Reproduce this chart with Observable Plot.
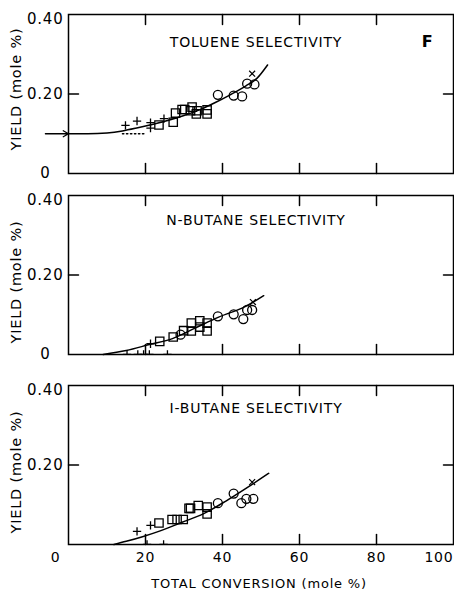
<!DOCTYPE html>
<html><head><meta charset="utf-8">
<script src="https://cdn.jsdelivr.net/npm/d3@7"></script>
<script src="https://cdn.jsdelivr.net/npm/@observablehq/plot@0.6"></script>
<style>
body{margin:0;background:#fff;}
#chart svg{display:block;}
#chart svg text{letter-spacing:0.8px;}
</style>
</head><body><div id="chart"></div>
<script>
// ---- ticks & labels ----
const innerXTicks = [20, 40, 60, 80];
const midXTickLabels = [20, 40, 60, 80];
const firstXTick = [0];
const lastXTick = [100];
const midYTick = [0.2];
const topYTick = [0.4];
const zeroYTick = [0];
const panelTitles = ["TOLUENE SELECTIVITY", "N-BUTANE SELECTIVITY", "I-BUTANE SELECTIVITY"];
const panelLetter = "F";
const xLabel = "TOTAL CONVERSION (mole %)";
const yLabel = "YIELD (mole %)";

// ---- Toluene ----
const feedToluene = 0.10;
const feedArrowX = [-6, 0];
const tolPlusX = [14.8, 17.8, 21.3, 21.3, 24.8];
const tolPlusY = [0.121, 0.132, 0.128, 0.114, 0.138];
const tolSquareX = [23.5, 27.2, 27.8, 29.5, 30.2, 31.7, 32.1, 33.4, 33.2, 36.0, 36.0];
const tolSquareY = [0.122, 0.129, 0.152, 0.161, 0.161, 0.158, 0.167, 0.158, 0.150, 0.160, 0.150];
const tolCircleX = [38.8, 42.9, 45.1, 46.4, 48.3];
const tolCircleY = [0.198, 0.196, 0.194, 0.226, 0.224];
const tolCrossX = [47.7];
const tolCrossY = [0.251];
const tolCurveX = [0, 5, 10, 14, 18, 22, 26, 30, 34, 38, 42, 46, 49, 51.7];
const tolCurveY = [0.100, 0.100, 0.102, 0.107, 0.115, 0.124, 0.134, 0.146, 0.160, 0.178, 0.198, 0.220, 0.240, 0.273];
const tolDottedX = [14, 20];

// ---- N-butane ----
const nbPlusX = [21.3];
const nbPlusY = [0.027];
const nbAxisPlusX = [15.2, 18.0, 19.5, 21.0, 25.7];
const nbSquareX = [23.7, 27.2, 29.9, 31.9, 31.9, 34.1, 34.1, 36.0, 36.0];
const nbSquareY = [0.033, 0.044, 0.060, 0.079, 0.059, 0.085, 0.069, 0.079, 0.059];
const nbCircleX = [29.1, 38.8, 42.9, 45.4, 46.4, 47.7];
const nbCircleY = [0.050, 0.096, 0.101, 0.089, 0.112, 0.112];
const nbCrossX = [47.9];
const nbCrossY = [0.132];
const nbCurveX = [9, 15, 21, 27, 33, 39, 46, 50.7];
const nbCurveY = [0, 0.010, 0.025, 0.040, 0.067, 0.094, 0.121, 0.148];

// ---- I-butane ----
const ibPlusX = [17.8, 21.3];
const ibPlusY = [0.033, 0.048];
const ibAxisPlusX = [20.4, 24.7];
const ibSquareX = [23.5, 26.9, 28.2, 29.8, 31.3, 31.7, 33.7, 36.0, 36.0];
const ibSquareY = [0.054, 0.063, 0.063, 0.063, 0.091, 0.091, 0.098, 0.094, 0.077];
const ibCircleX = [38.8, 42.9, 44.9, 46.2, 48.0];
const ibCircleY = [0.104, 0.128, 0.104, 0.115, 0.115];
const ibCrossX = [47.7];
const ibCrossY = [0.157];
const ibCurveX = [11.8, 15, 19, 24, 29.5, 35, 41, 46.4, 52];
const ibCurveY = [0, 0.008, 0.019, 0.035, 0.056, 0.077, 0.110, 0.143, 0.179];

const pts = (xs, ys) => xs.map((x, i) => ({x, y: ys[i]}));
const W = 454, ML = 68, MR = 1, TICK_PX = 10;

// inward frame ticks as short two-point line segments (one z group per tick)
function frameTickSegments(plotH) {
  const plotW = W - ML - MR;
  const tY = 0.4 * TICK_PX / plotH;
  const tX = 100 * TICK_PX / plotW;
  const segs = [];
  innerXTicks.forEach((v, i) => {
    segs.push({k: "b" + i, x: v, y: 0}, {k: "b" + i, x: v, y: tY});
    segs.push({k: "t" + i, x: v, y: 0.4}, {k: "t" + i, x: v, y: 0.4 - tY});
  });
  midYTick.forEach((v, i) => {
    segs.push({k: "l" + i, x: 0, y: v}, {k: "l" + i, x: tX, y: v});
    segs.push({k: "r" + i, x: 100, y: v}, {k: "r" + i, x: 100 - tX, y: v});
  });
  return segs;
}

function panel(o) {
  const plotH = o.height - o.marginTop - o.marginBottom;
  const marks = [
    Plot.frame({stroke: "black", strokeWidth: 1.5}),
    Plot.line(frameTickSegments(plotH), {x: "x", y: "y", z: "k", stroke: "black", strokeWidth: 1.5}),
    Plot.axisY(midYTick, {tickSize: 0, tickPadding: 5, tickFormat: d => d.toFixed(2), fontSize: 15, label: null}),
    Plot.axisY(topYTick, {tickSize: 0, tickPadding: 5, tickFormat: d => d.toFixed(2), fontSize: 15, dy: 5, label: null}),
  ];
  if (o.showZero) marks.push(Plot.axisY(zeroYTick, {tickSize: 0, tickPadding: 5, tickFormat: () => "0", fontSize: 15, dx: -13, label: null}));
  marks.push(
    Plot.line(o.curve, {x: "x", y: "y", curve: "monotone-x", stroke: "black", strokeWidth: 1.5}),
    Plot.dot(o.squares, {x: "x", y: "y", symbol: "square", r: 4.7, stroke: "black", strokeWidth: 1.3, fill: "none"}),
    Plot.dot(o.circles, {x: "x", y: "y", symbol: "circle", r: 4.5, stroke: "black", strokeWidth: 1.3, fill: "none"}),
    Plot.dot(o.pluses, {x: "x", y: "y", symbol: "plus", r: 2.8, stroke: "black", strokeWidth: 1.3}),
    Plot.dot(o.crosses, {x: "x", y: "y", symbol: "times", r: 2.8, stroke: "black", strokeWidth: 1.2}),
    Plot.text([o.title], {text: d => d, frameAnchor: "top", dy: o.titleDy, dx: -5, fontSize: 14}),
    Plot.text([yLabel], {text: d => d, frameAnchor: "left", textAnchor: "middle", lineAnchor: "middle", rotate: -90, dx: -52, dy: o.yLabelDy, fontSize: 14.5})
  );
  if (o.axisPluses) marks.push(Plot.dot(o.axisPluses, {x: d => d, y: 0, symbol: "plus", r: 2.8, stroke: "black", strokeWidth: 1.3, clip: true}));
  if (o.extra) marks.push(...o.extra);
  if (o.showX) {
    marks.push(
      Plot.axisX(midXTickLabels, {tickSize: 0, tickPadding: 8, fontSize: 14, label: null}),
      Plot.axisX(firstXTick, {tickSize: 0, tickPadding: 8, fontSize: 14, dx: -13, label: null}),
      Plot.axisX(lastXTick, {tickSize: 0, tickPadding: 8, fontSize: 14, textAnchor: "end", label: null}),
      Plot.text([xLabel], {text: d => d, frameAnchor: "bottom", lineAnchor: "middle", dy: 39, dx: -2, fontSize: 13})
    );
  }
  return Plot.plot({
    width: W, height: o.height,
    marginLeft: ML, marginRight: MR, marginTop: o.marginTop, marginBottom: o.marginBottom,
    style: {fontFamily: "DejaVu Sans", background: "white", color: "black"},
    x: {domain: [0, 100], label: null, ...(o.showX ? {} : {axis: null})},
    y: {domain: [0, 0.4], label: null},
    marks
  });
}

const chart = document.getElementById("chart");

chart.append(panel({
  height: 185, marginTop: 14, marginBottom: 12, showZero: true, titleDy: 23, yLabelDy: -5,
  title: panelTitles[0],
  squares: pts(tolSquareX, tolSquareY), circles: pts(tolCircleX, tolCircleY),
  pluses: pts(tolPlusX, tolPlusY), crosses: pts(tolCrossX, tolCrossY),
  curve: pts(tolCurveX, tolCurveY),
  extra: [
    Plot.line(tolDottedX.map(x => ({x, y: feedToluene})), {x: "x", y: "y", stroke: "black", strokeWidth: 1.3, strokeDasharray: "1.5,2.5"}),
    Plot.arrow([{x1: feedArrowX[0], x2: feedArrowX[1], y: feedToluene}], {x1: "x1", x2: "x2", y1: "y", y2: "y", headLength: 7, stroke: "black", strokeWidth: 1.3}),
    Plot.text([panelLetter], {text: d => d, frameAnchor: "top-right", dx: -20, dy: 21, fontSize: 16, fontWeight: "bold"})
  ]
}));

chart.append(panel({
  height: 181, marginTop: 10, marginBottom: 12, showZero: true, titleDy: 20, yLabelDy: 7,
  title: panelTitles[1],
  squares: pts(nbSquareX, nbSquareY), circles: pts(nbCircleX, nbCircleY),
  pluses: pts(nbPlusX, nbPlusY), crosses: pts(nbCrossX, nbCrossY),
  axisPluses: nbAxisPlusX,
  curve: pts(nbCurveX, nbCurveY)
}));

chart.append(panel({
  height: 224, marginTop: 19, marginBottom: 46, showZero: false, showX: true, titleDy: 18, yLabelDy: 7,
  title: panelTitles[2],
  squares: pts(ibSquareX, ibSquareY), circles: pts(ibCircleX, ibCircleY),
  pluses: pts(ibPlusX, ibPlusY), crosses: pts(ibCrossX, ibCrossY),
  axisPluses: ibAxisPlusX,
  curve: pts(ibCurveX, ibCurveY)
}));
</script>
</body></html>
